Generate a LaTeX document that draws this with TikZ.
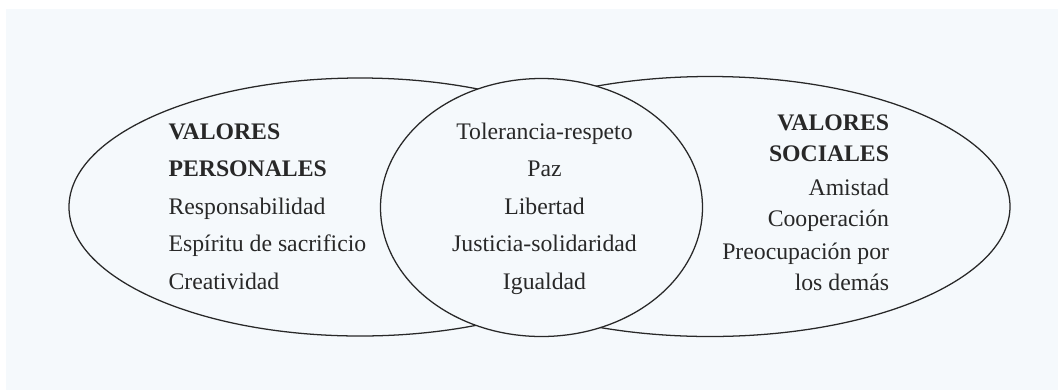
\documentclass[tikz,border=0pt]{standalone}
\usepackage{fontspec}
\setmainfont{Liberation Serif}
\usetikzlibrary{shapes.geometric}
\definecolor{paper}{RGB}{245,249,252}
\definecolor{ink}{RGB}{40,40,40}
\tikzset{
  outline/.style={draw=ink, line width=0.95pt, ellipse, inner sep=0pt},
  txt/.style={text=ink, inner sep=0pt, font=\fontsize{17.8pt}{21pt}\selectfont},
  head/.style={txt, font=\fontsize{17.8pt}{21pt}\selectfont\bfseries}
}
\begin{document}
\begin{tikzpicture}[x=0.75pt, y=-0.75pt]
\useasboundingbox (0,0) rectangle (1058,390);
\fill[white] (0,0) rectangle (1058,390);
\fill[paper] (6,9) rectangle (1058,390);
% sets
\node[outline, minimum width=436.5pt, minimum height=193.5pt] (personal) at (360,207) {};
\node[outline, minimum width=450pt, minimum height=195pt] (social) at (710,206.5) {};
\node[outline, fill=paper, minimum width=241.5pt, minimum height=193.5pt] (common) at (541.5,207.5) {};
% left texts
\node[head, anchor=base west] (p1) at (168.3,139.3) {VALORES};
\node[head, anchor=base west] (p2) at (168.3,176.7) {PERSONALES};
\node[txt, anchor=base west] (p3) at (168.3,214) {Responsabilidad};
\node[txt, anchor=base west] (p4) at (168.3,251.7) {Espíritu de sacrificio};
\node[txt, anchor=base west] (p5) at (168.3,289) {Creatividad};
% middle texts
\node[txt, anchor=base] (c1) at (544.5,139.3) {Tolerancia-respeto};
\node[txt, anchor=base] (c2) at (544.5,176.7) {Paz};
\node[txt, anchor=base] (c3) at (544.5,214) {Libertad};
\node[txt, anchor=base] (c4) at (544.5,251.7) {Justicia-solidaridad};
\node[txt, anchor=base] (c5) at (544.5,289) {Igualdad};
% right texts
\node[head, anchor=base east] (s1) at (889.3,130) {VALORES};
\node[head, anchor=base east] (s2) at (889.3,161.7) {SOCIALES};
\node[txt, anchor=base east] (s3) at (889.3,195) {Amistad};
\node[txt, anchor=base east] (s4) at (889.3,226.7) {Cooperación};
\node[txt, anchor=base east] (s5) at (889.3,259.3) {Preocupación por};
\node[txt, anchor=base east] (s6) at (889.3,290.7) {los demás};
\end{tikzpicture}
\end{document}
